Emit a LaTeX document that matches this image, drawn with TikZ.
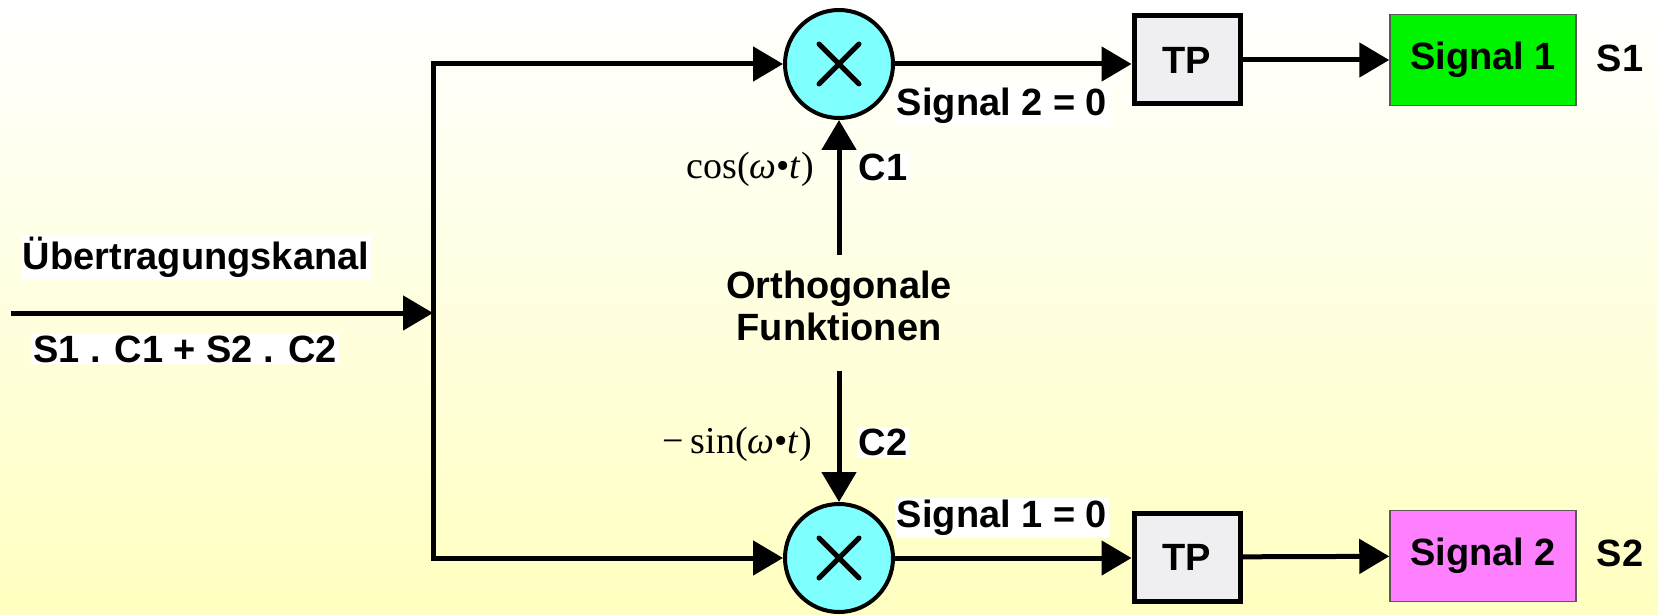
\documentclass[tikz,border=0pt]{standalone}
\usepackage{fontspec}
\setmainfont{Liberation Sans}
\newfontfamily\fnserif{Liberation Serif}
\usetikzlibrary{arrows.meta, positioning}
\definecolor{bgyellow}{HTML}{FFFFC0}
\definecolor{multcyan}{HTML}{80FFFF}
\definecolor{tpgray}{HTML}{EFEFF1}
\definecolor{siggreen}{HTML}{00F400}
\definecolor{sigpink}{HTML}{FF80FF}
\begin{document}
\begin{tikzpicture}[x=1pt, y=-1pt,
 big/.style={font=\bfseries\fontsize{38}{42}\selectfont},
 mult/.style={draw, circle, line width=4pt, fill=multcyan, minimum size=108pt, inner sep=0pt,
  path picture={\draw[line width=5pt, line cap=round]
   ([shift={(-20,-20)}]path picture bounding box.center) -- ([shift={(20,20)}]path picture bounding box.center)
   ([shift={(-20,20)}]path picture bounding box.center) -- ([shift={(20,-20)}]path picture bounding box.center);}},
 tp/.style={big, draw, line width=5pt, fill=tpgray, minimum width=106pt, minimum height=88pt},
 sig/.style={big, draw=black!65, line width=1.5pt, minimum width=186pt, minimum height=91pt},
 lbl/.style={big, inner sep=2pt},
 wlbl/.style={lbl, fill=white},
 fn/.style={font=\fnserif\fontsize{38}{42}\selectfont, inner sep=0pt, anchor=east},
 wire/.style={line width=5pt, line cap=rect},
 arr/.style={-{Triangle[length=30pt, width=34pt]}, line width=5pt}]
% background
\fill[top color=white, bottom color=bgyellow] (0,0) rectangle (1658,615);
\useasboundingbox (0,0) rectangle (1658,615);
% blocks
\node[mult] (m1) at (839,64) {};
\node[mult] (m2) at (839,558) {};
\node[tp] (tp1) at (1187,60) {TP};
\node[tp] (tp2) at (1187,557) {TP};
\node[sig, fill=siggreen] (sig1) at (1483,60) {Signal 1};
\node[sig, fill=sigpink] (sig2) at (1483,556) {Signal 2};
\node[lbl] (s1) at (1620,58) {S1};
\node[lbl] (s2) at (1620,553) {S2};
\node[lbl, align=center, inner ysep=16pt] (ortho) at (839,306) {Orthogonale\\Funktionen};
% labels
\node[wlbl] (kanal) at (196,257) {Übertragungskanal};
\node[wlbl] (summe) at (185,349) {S1 . C1 + S2 . C2};
\node[wlbl] (null2) at (1002,106) {Signal 2 = 0};
\node[wlbl] (null1) at (1002,518) {Signal 1 = 0};
\node[wlbl] (c1) at (883,167) {C1};
\node[wlbl] (c2) at (883,442) {C2};
\node[fn] (cosf) at (814,169) {cos(\textit{ω}•\textit{t})};
\node[fn] (sinf) at (812,444) {−\,sin(\textit{ω}•\textit{t})};
% connectors
\coordinate (in) at (11,313);
\coordinate (junc) at (433,313);
\coordinate (jtop) at (433,64);
\coordinate (jbot) at (433,558);
\draw[arr] (in) -- (junc);
\draw[wire] (jtop) -- (jbot);
\draw[arr] (jtop) -- (m1);
\draw[arr] (jbot) -- (m2);
\draw[arr] (ortho.north) -- (m1);
\draw[arr] ([yshift=-14pt]ortho.south) -- (m2);
\draw[arr] (m1.east) -- (m1.east -| tp1.west);
\draw[arr] (m2.east) -- (m2.east -| tp2.west);
\draw[arr] (tp1) -- (sig1);
\draw[arr] (tp2) -- (sig2);
\end{tikzpicture}
\end{document}
